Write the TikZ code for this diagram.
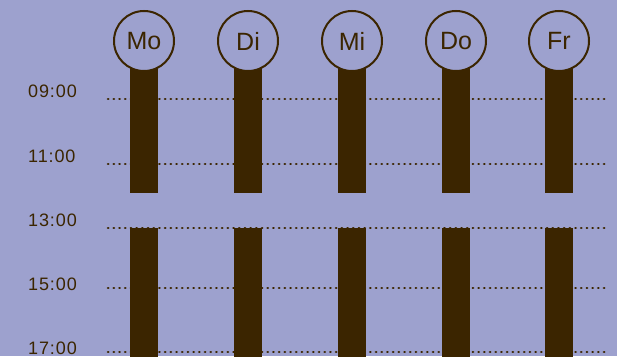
\documentclass[tikz,border=0pt]{standalone}
\usepackage{fontspec}
\setmainfont{Liberation Sans}
\definecolor{bg}{HTML}{9DA1CE}
\definecolor{ink}{HTML}{3B2500}
\begin{document}
\begin{tikzpicture}[x=1pt,y=-1pt,
  grid/.style={ink,line width=2.6pt,line cap=round,dash pattern=on 0.3pt off 5.4pt},
  bar/.style={fill=ink},
  day/.style={circle,draw=ink,line width=2pt,fill=bg,minimum size=60pt,inner sep=0pt,text=ink,font=\fontsize{25}{30}\selectfont},
  time/.style={anchor=base west,inner sep=0pt,text=ink,font=\fontsize{18}{20}\selectfont\addfontfeatures{LetterSpace=5}}]
\fill[bg] (0,0) rectangle (617,356);
\useasboundingbox (0,0) rectangle (617,356);
% grid lines
\foreach \y in {99,164,228,288,352} {
  \draw[grid] (108,\y) -- (606,\y);
}
% time labels
\node[time] (t09) at (28,97) {09:00};
\node[time] (t11) at (28,162) {11:00};
\node[time] (t13) at (28,226) {13:00};
\node[time] (t15) at (28,290) {15:00};
\node[time] (t17) at (28,354) {17:00};
% bars and days
\foreach \x/\d in {144/Mo,248/Di,352/Mi,456/Do,559/Fr} {
  \fill[bar] (\x-14,60) rectangle (\x+14,193);
  \fill[bar] (\x-14,228) rectangle (\x+14,360);
  \node[day] (\d) at (\x,41) {\d};
}
\end{tikzpicture}
\end{document}
